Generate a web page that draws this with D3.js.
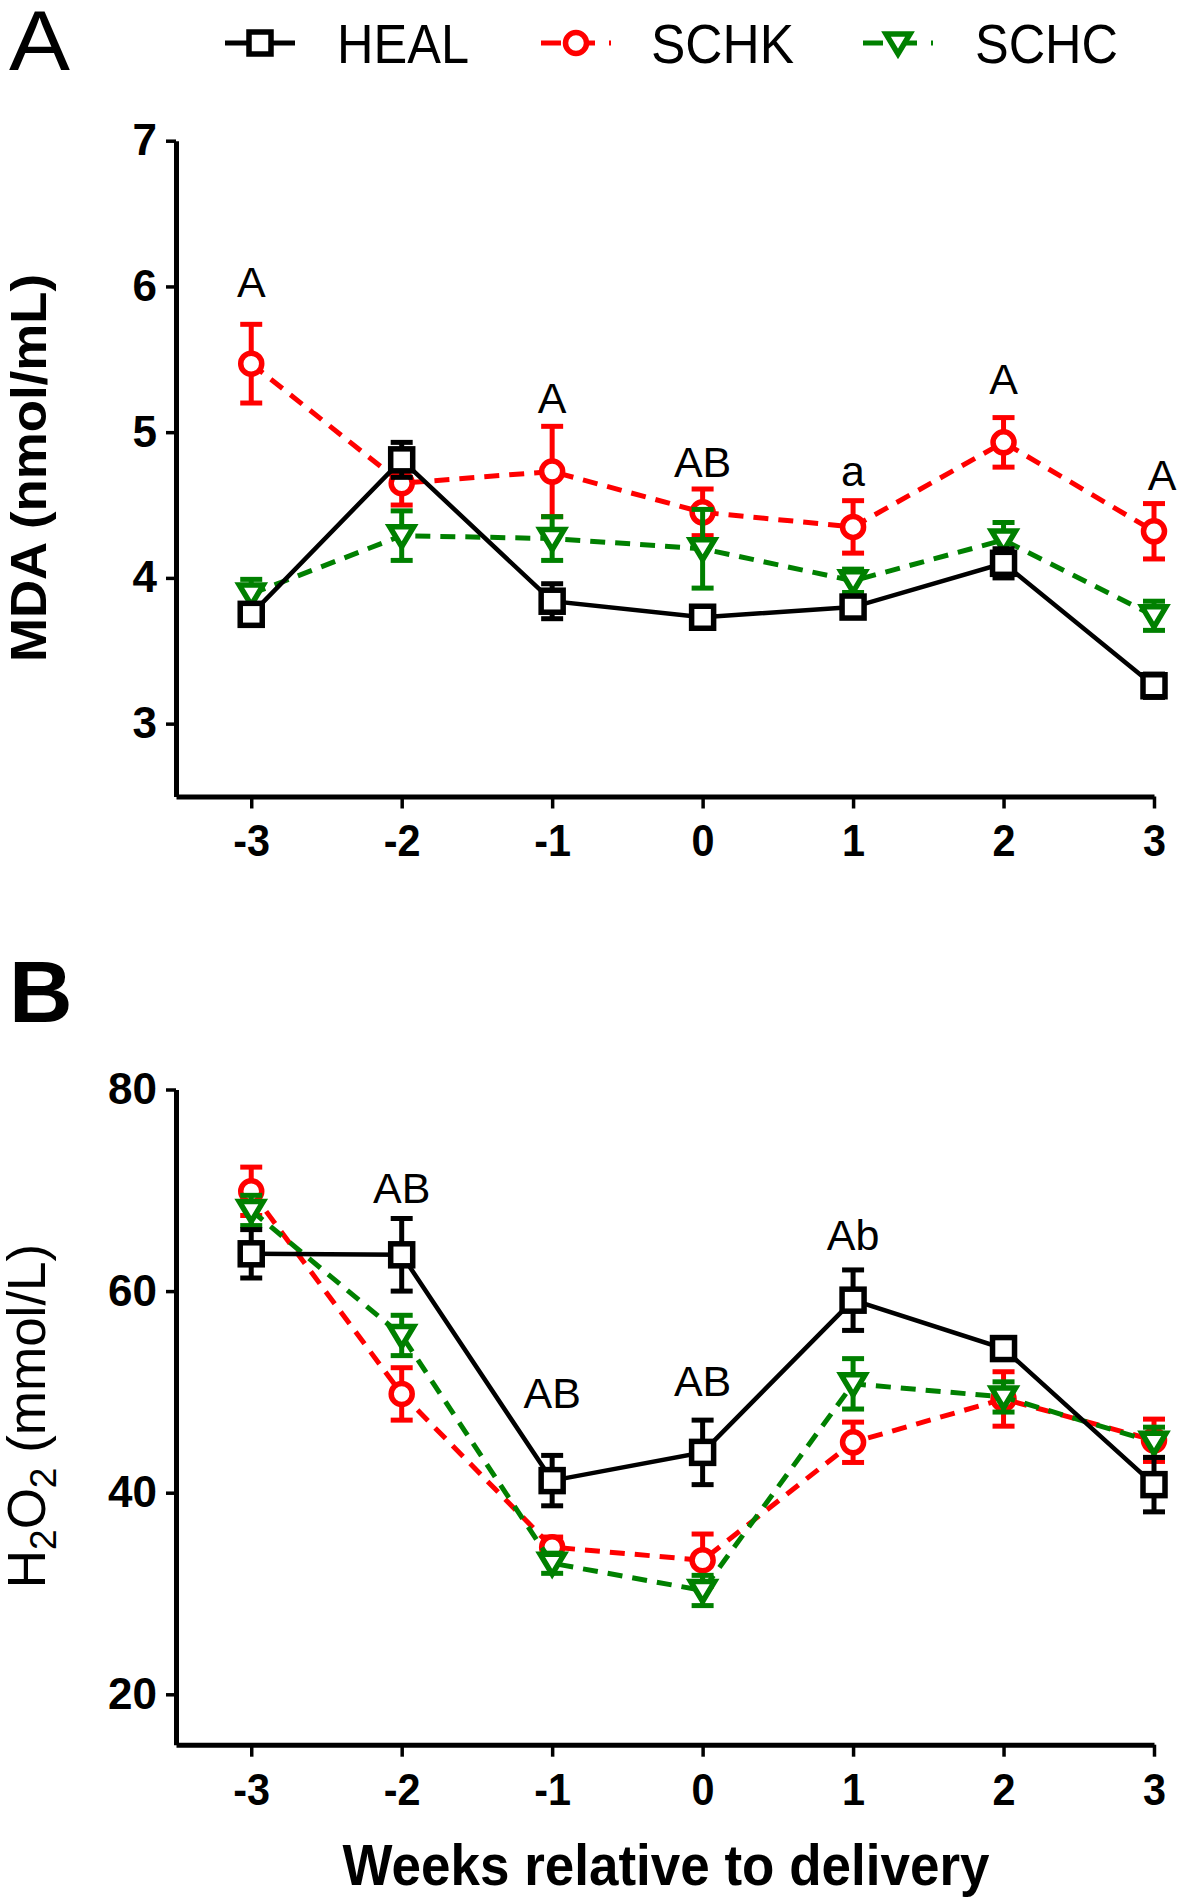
<!DOCTYPE html>
<html>
<head>
<meta charset="utf-8">
<script src="https://cdn.jsdelivr.net/npm/d3@7"></script>
<style>
  body { margin: 0; background: #fff; }
</style>
</head>
<body>
<script>
// weeks relative to delivery
var weeks = [-3, -2, -1, 0, 1, 2, 3];

// panel A: MDA (nmol/mL), mean and SEM
var mdaHEAL    = [3.75, 4.81, 3.84, 3.73, 3.80, 4.10, 3.26];
var mdaHEALerr = [0.07, 0.12, 0.12, 0.06, 0.07, 0.10, 0.08];
var mdaSCHK    = [5.47, 4.65, 4.73, 4.45, 4.35, 4.93, 4.32];
var mdaSCHKerr = [0.27, 0.15, 0.31, 0.16, 0.18, 0.17, 0.19];
var mdaSCHC    = [3.89, 4.29, 4.27, 4.20, 3.98, 4.26, 3.74];
var mdaSCHCerr = [0.10, 0.17, 0.15, 0.27, 0.08, 0.12, 0.10];

// panel B: H2O2 (mmol/L), mean and SEM
var h2o2HEAL    = [63.7, 63.6, 41.2, 44.0, 59.1, 54.3, 40.8];
var h2o2HEALerr = [2.4, 3.6, 2.5, 3.2, 3.0, 1.0, 2.7];
var h2o2SCHK    = [69.9, 49.8, 34.6, 33.3, 45.0, 49.3, 45.2];
var h2o2SCHKerr = [2.4, 2.6, 1.0, 2.6, 2.0, 2.7, 2.1];
var h2o2SCHC    = [68.0, 55.6, 33.0, 30.3, 50.8, 49.5, 45.0];
var h2o2SCHCerr = [1.5, 2.0, 1.0, 1.5, 2.5, 1.5, 1.5];

// significance letters (text and the value at which the letter sits)
var mdaLetters  = ["A", "", "A", "AB", "a", "A", "A"];
var mdaLetterY  = [5.93, null, 5.13, 4.69, 4.63, 5.26, 4.60];
var h2o2Letters = ["", "AB", "AB", "AB", "Ab", "", ""];
var h2o2LetterY = [null, 68.7, 48.4, 49.6, 64.1, null, null];

var mdaTicks  = [3, 4, 5, 6, 7];
var h2o2Ticks = [20, 40, 60, 80];
var groups = ["HEAL", "SCHK", "SCHC"];

var colors = { HEAL: "#000000", SCHK: "#ff0000", SCHC: "#008000" };
var dashes = { HEAL: null, SCHK: "15,10", SCHC: "15,10" };

var sans = "'Liberation Sans', Arial, sans-serif";

const width = 1181;
const height = 1901;

const svg = d3.select("body")
  .append("svg")
  .attr("width", width)
  .attr("height", height);

var x = d3.scaleLinear().domain([-3.5, 3]).range([176, 1154]);

// marker shapes drawn around (0,0)
function marker(sel, name) {
  if (name == "HEAL") {
    sel.append("rect")
      .attr("x", -11).attr("y", -11)
      .attr("width", 22).attr("height", 22);
  } else if (name == "SCHK") {
    sel.append("circle").attr("r", 10.5);
  } else {
    sel.append("path").attr("d", "M-12,-9L12,-9L0,11Z");
  }
  sel.selectAll("*")
    .attr("fill", "#fff")
    .attr("stroke", colors[name])
    .attr("stroke-width", 5.5);
}

function drawPanel(y, series, ticks, letters, letterY) {
  var g = svg.append("g");

  // axes
  var yAxis = g.append("g")
    .attr("transform", "translate(176,0)")
    .call(d3.axisLeft(y).tickValues(ticks).tickFormat(function(d) { return String(d); })
      .tickSize(10).tickSizeOuter(0).tickPadding(9));
  var xAxis = g.append("g")
    .attr("transform", "translate(0," + y.range()[0] + ")")
    .call(d3.axisBottom(x).tickValues(weeks).tickFormat(function(d) { return String(d); })
      .tickSize(12).tickSizeOuter(0).tickPadding(16));

  [yAxis, xAxis].forEach(function(a) {
    a.select(".domain").attr("stroke", "#000").attr("stroke-width", 5);
    a.selectAll(".tick line").attr("stroke", "#000").attr("stroke-width", 3.5);
  });
  yAxis.selectAll("text")
    .style("font-family", sans)
    .style("font-weight", "bold")
    .style("font-size", "44px")
    .attr("fill", "#000");
  xAxis.selectAll("text")
    .style("font-family", sans)
    .style("font-weight", "bold")
    .style("font-size", "45px")
    .attr("transform", "scale(0.92,1)")
    .attr("fill", "#000");

  var line = d3.line()
    .x(function(d) { return x(d.w); })
    .y(function(d) { return y(d.v); });

  // draw order: SCHK, SCHC, HEAL on top
  ["SCHK", "SCHC", "HEAL"].forEach(function(name) {
    var s = series[name];
    var pts = weeks.map(function(w, i) { return { w: w, v: s.mean[i], e: s.err[i] }; });
    var sg = g.append("g");

    sg.append("path")
      .datum(pts)
      .attr("d", line)
      .attr("fill", "none")
      .attr("stroke", colors[name])
      .attr("stroke-width", name == "HEAL" ? 4.5 : 5)
      .attr("stroke-dasharray", dashes[name]);

    var eb = sg.selectAll(".err")
      .data(pts)
      .enter()
      .append("g");
    eb.append("line")
      .attr("x1", function(d) { return x(d.w); })
      .attr("x2", function(d) { return x(d.w); })
      .attr("y1", function(d) { return y(d.v + d.e); })
      .attr("y2", function(d) { return y(d.v - d.e); });
    eb.append("line")
      .attr("x1", function(d) { return x(d.w) - 11; })
      .attr("x2", function(d) { return x(d.w) + 11; })
      .attr("y1", function(d) { return y(d.v + d.e); })
      .attr("y2", function(d) { return y(d.v + d.e); });
    eb.append("line")
      .attr("x1", function(d) { return x(d.w) - 11; })
      .attr("x2", function(d) { return x(d.w) + 11; })
      .attr("y1", function(d) { return y(d.v - d.e); })
      .attr("y2", function(d) { return y(d.v - d.e); });
    eb.selectAll("line")
      .attr("stroke", colors[name])
      .attr("stroke-width", 5);

    sg.selectAll(".mk")
      .data(pts)
      .enter()
      .append("g")
      .attr("transform", function(d) { return "translate(" + x(d.w) + "," + y(d.v) + ")"; })
      .each(function() { marker(d3.select(this), name); });
  });

  // letters
  g.selectAll(".letter")
    .data(weeks.filter(function(w, i) { return letters[i] != ""; }))
    .enter()
    .append("text")
    .attr("x", function(w) { return x(w) + (w == 3 ? 8 : 0); })
    .attr("y", function(w) { return y(letterY[weeks.indexOf(w)]); })
    .attr("text-anchor", "middle")
    .style("font-family", sans)
    .style("font-size", "43px")
    .text(function(w) { return letters[weeks.indexOf(w)]; });

  return g;
}

// panel A
var yA = d3.scaleLinear().domain([2.5, 7]).range([796.5, 140.7]);
drawPanel(yA, {
  HEAL: { mean: mdaHEAL, err: mdaHEALerr },
  SCHK: { mean: mdaSCHK, err: mdaSCHKerr },
  SCHC: { mean: mdaSCHC, err: mdaSCHCerr }
}, mdaTicks, mdaLetters, mdaLetterY);

// panel B
var yB = d3.scaleLinear().domain([15, 80]).range([1744.7, 1089.5]);
drawPanel(yB, {
  HEAL: { mean: h2o2HEAL, err: h2o2HEALerr },
  SCHK: { mean: h2o2SCHK, err: h2o2SCHKerr },
  SCHC: { mean: h2o2SCHC, err: h2o2SCHCerr }
}, h2o2Ticks, h2o2Letters, h2o2LetterY);

// panel letters
svg.append("text")
  .attr("x", 9).attr("y", 70)
  .attr("textLength", 61)
  .attr("lengthAdjust", "spacingAndGlyphs")
  .style("font-family", sans)
  .style("font-size", "86px")
  .text("A");
svg.append("text")
  .attr("x", 9).attr("y", 1022)
  .style("font-family", sans)
  .style("font-weight", "bold")
  .style("font-size", "88px")
  .text("B");

// y axis titles
svg.append("text")
  .attr("transform", "translate(46,468) rotate(-90)")
  .attr("text-anchor", "middle")
  .attr("textLength", 388)
  .attr("lengthAdjust", "spacingAndGlyphs")
  .style("font-family", sans)
  .style("font-weight", "bold")
  .style("font-size", "50px")
  .text("MDA (nmol/mL)");

var tB = svg.append("text")
  .attr("transform", "translate(45,1416) rotate(-90)")
  .attr("text-anchor", "middle")
  .style("font-family", sans)
  .style("font-size", "53px");
tB.append("tspan").text("H");
tB.append("tspan").attr("dy", 11).style("font-size", "37px").text("2");
tB.append("tspan").attr("dy", -11).text("O");
tB.append("tspan").attr("dy", 11).style("font-size", "37px").text("2");
tB.append("tspan").attr("dy", -11).text(" (mmol/L)");

// x axis title
svg.append("text")
  .attr("x", 666).attr("y", 1885)
  .attr("text-anchor", "middle")
  .attr("textLength", 647)
  .attr("lengthAdjust", "spacingAndGlyphs")
  .style("font-family", sans)
  .style("font-weight", "bold")
  .style("font-size", "58px")
  .text("Weeks relative to delivery");

// legend
var legX = [260, 576, 898];
var legTextX = [337, 651, 975];
var legTextW = [132, 143, 143];
groups.forEach(function(name, i) {
  var lg = svg.append("g");
  lg.append("line")
    .attr("x1", legX[i] - 35).attr("x2", legX[i] + 35)
    .attr("y1", 43).attr("y2", 43)
    .attr("stroke", colors[name])
    .attr("stroke-width", 5)
    .attr("stroke-dasharray", name == "HEAL" ? null : "20,14");
  lg.append("g")
    .attr("transform", "translate(" + legX[i] + ",43)")
    .call(marker, name);
  lg.append("text")
    .attr("x", legTextX[i]).attr("y", 63)
    .attr("textLength", legTextW[i])
    .attr("lengthAdjust", "spacingAndGlyphs")
    .style("font-family", sans)
    .style("font-size", "56px")
    .text(name);
});
</script>
</body>
</html>
